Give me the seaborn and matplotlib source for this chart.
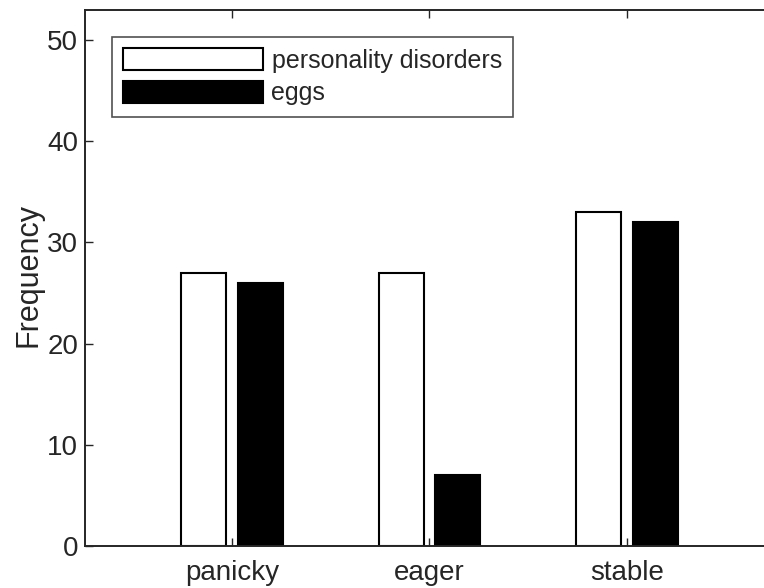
import matplotlib
matplotlib.use("Agg")
import matplotlib.pyplot as plt
import seaborn as sns
import pandas as pd

categories = ["panicky", "eager", "stable"]
series_names = ["personality disorders", "eggs"]
personality_disorders = [27, 27, 33]
eggs = [26, 7, 32]
y_ticks = [0, 10, 20, 30, 40, 50]

sns.set_theme(style="white")
plt.rcParams["font.family"] = ["Liberation Sans", "DejaVu Sans"]

df = pd.DataFrame({
    "category": categories * 2,
    "series": [series_names[0]] * 3 + [series_names[1]] * 3,
    "value": personality_disorders + eggs,
})

fig = plt.figure(figsize=(7.64, 5.88), dpi=100)
ax = fig.add_axes([85 / 764, 1 - 546 / 588, 715 / 764, (546 - 9.5) / 588])

sns.barplot(data=df, x="category", y="value", hue="series", order=categories,
            hue_order=series_names, palette=["white", "black"], width=0.571,
            gap=0.2, edgecolor="black", linewidth=1.5, ax=ax, legend=True)

ax.set_ylim(0, 53)
ax.set_xlim(-0.744, 2.876)
ax.set_yticks(y_ticks)
ax.set_xlabel("")
ax.set_ylabel("Frequency", fontsize=22, color="#262626")
ax.yaxis.set_label_coords(-(85 - 43) / 715, (546 - 275) / (546 - 9.5))

for s in ["left", "bottom", "top"]:
    ax.spines[s].set_visible(True)
    ax.spines[s].set_color("#262626")
    ax.spines[s].set_linewidth(1.4)
ax.spines["right"].set_visible(False)

ax.tick_params(axis="both", direction="in", length=6, width=1, colors="#262626",
               labelsize=20, labelcolor="#262626")
ax.tick_params(axis="x", top=True, bottom=True, pad=10)
ax.tick_params(axis="y", left=True, pad=5)

leg = ax.legend(loc="upper left", bbox_to_anchor=(112 / 764, 1 - 37 / 588),
                bbox_transform=fig.transFigure, borderaxespad=0, fontsize=18,
                frameon=True, fancybox=False, edgecolor="#262626",
                handlelength=5.56, handleheight=0.96, handletextpad=0.36,
                borderpad=0.46, labelspacing=0.32)
leg.get_frame().set_linewidth(1.2)
for t in leg.get_texts():
    t.set_color("#262626")

fig.savefig("out.png", dpi=100)
